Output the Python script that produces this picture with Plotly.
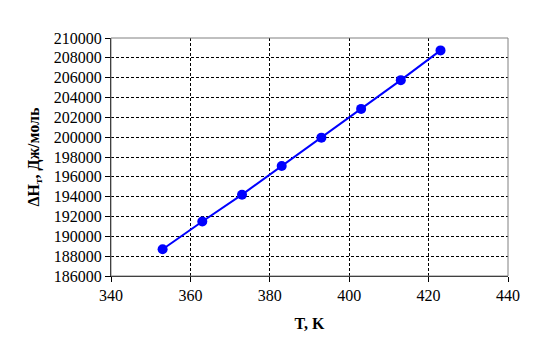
import plotly.graph_objects as go

T = [353, 363, 373, 383, 393, 403, 413, 423]
dH = [188700, 191500, 194200, 197100, 199950, 202850, 205750, 208750]

x_ticks = [340, 360, 380, 400, 420, 440]
y_ticks = list(range(186000, 210001, 2000))

FONT = "Liberation Serif"

fig = go.Figure()
fig.add_trace(go.Scatter(
    x=T, y=dH, mode="lines+markers",
    line=dict(color="#0000ff", width=2),
    marker=dict(color="#0000ff", size=10, symbol="circle"),
    showlegend=False,
))

fig.update_layout(
    width=538, height=361,
    margin=dict(l=111, r=30, t=38, b=85),
    paper_bgcolor="white", plot_bgcolor="white",
    font=dict(family=FONT, size=16, color="black"),
    xaxis=dict(
        range=[340, 440], tickvals=x_ticks, ticktext=[str(v) for v in x_ticks],
        tickfont=dict(family=FONT, size=16),
        showgrid=True, gridcolor="black", gridwidth=1, griddash="3px,2px",
        showline=True, linecolor="black", linewidth=1,
        ticks="outside", ticklen=5, tickcolor="black",
        zeroline=False,
        title=dict(text="<b>T, K</b>", font=dict(family=FONT, size=16), standoff=14),
    ),
    yaxis=dict(
        range=[186000, 210000], tickvals=y_ticks, ticktext=[str(v) for v in y_ticks],
        tickfont=dict(family=FONT, size=16),
        showgrid=True, gridcolor="black", gridwidth=1, griddash="3px,2px",
        showline=True, linecolor="black", linewidth=1,
        ticks="outside", ticklen=5, tickcolor="black",
        zeroline=False,
        title=dict(text="<b>ΔH<sub>т</sub>, Дж/моль</b>", font=dict(family=FONT, size=16), standoff=10),
    ),
    shapes=[dict(type="rect", xref="paper", yref="paper", x0=0, x1=1, y0=0, y1=1,
                 line=dict(color="#808080", width=1), layer="above")],
)

fig.write_html("out.html")
